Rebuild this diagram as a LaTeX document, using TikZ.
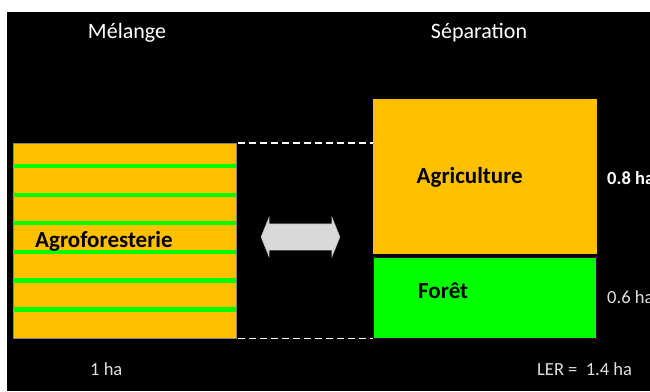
\documentclass[tikz,border=0pt]{standalone}
\usepackage{fontspec}
\setmainfont{Carlito}
\usetikzlibrary{shapes.arrows}
\definecolor{champ}{HTML}{FFC000}
\definecolor{arbre}{HTML}{00FF00}

\begin{document}
\begin{tikzpicture}[x=1pt,y=-1pt,
        titre/.style={text=white, font=\fontsize{22}{26}\selectfont, anchor=base},
        surf/.style={text=white!88!black, font=\fontsize{18.5}{22}\selectfont, anchor=base west, inner sep=0pt},
        nom/.style={font=\bfseries\fontsize{23}{27}\selectfont, anchor=base west, inner sep=0pt},
        parcelle/.style={anchor=north west, inner sep=0pt, minimum width=#1}]
        \clip (0,0) rectangle (650,391);
        \fill[white] (0,0) rectangle (650,391);
        \fill[black] (7,12) rectangle (650,391);

        \node[parcelle=223, minimum height=195, fill=champ, draw=gray] (agro) at (12.5,143) {};
        \foreach \y in {166.3,194.8,223.3,251.8,280.5,309.4}
            \fill[arbre] (12.5,\y-2.1) rectangle (235.5,\y+2.1);
        \node[parcelle=224, minimum height=155, fill=champ] (agri) at (372.7,98.3) {};
        \node[parcelle=222.5, minimum height=80.4, fill=arbre, draw=violet!60!black] (foret) at (373.3,257.3) {};

        \draw[white, line width=1.3, dash pattern=on 7pt off 4pt, shorten <=2.5] (agro.north east) -- (agro.north east -| agri.west);
        \draw[white, line width=1.3, dash pattern=on 7pt off 4pt, shorten <=2.5] (agro.south east) -- (agro.south east -| foret.west);

        \node[double arrow, fill=gray!30, draw=gray!70, minimum height=79, minimum width=40,
            double arrow head extend=7, double arrow tip angle=136, inner xsep=0pt, inner ysep=13pt] (fleche) at (300.5,237) {};

        \node[titre] (melange) at (127,38) {Mélange};
        \node[titre] (separation) at (479,38) {Séparation};
        \node[nom] (tagro) at (35,247.3) {Agroforesterie};
        \node[nom] (tagri) at (416.5,183.3) {Agriculture};
        \node[nom] (tforet) at (418,298) {Forêt};
        \node[surf, text=white, font=\bfseries\fontsize{18.5}{22}\selectfont] (huit) at (607,184.3) {0.8 ha};
        \node[surf] (six) at (607,303.5) {0.6 ha};
        \node[surf] (un) at (90,375) {1 ha};
        \node[surf] (ler) at (537,375) {LER =\ \ 1.4 ha};
\end{tikzpicture}
\end{document}
